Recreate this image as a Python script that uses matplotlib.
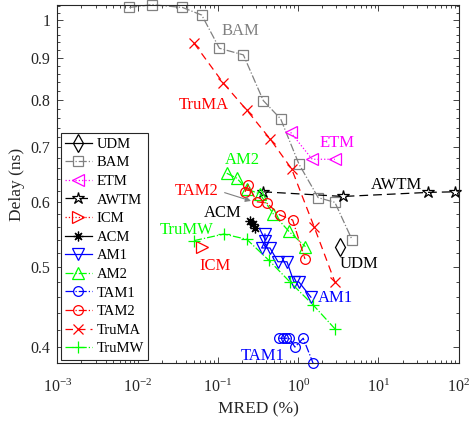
import matplotlib
matplotlib.use("Agg")
import matplotlib.pyplot as plt
from matplotlib.ticker import FixedLocator, LogLocator, NullFormatter, FixedFormatter
import numpy as np

plt.rcParams['font.family'] = ['Liberation Serif', 'DejaVu Serif']
plt.rcParams['mathtext.fontset'] = 'custom'
plt.rcParams['mathtext.rm'] = 'Liberation Serif'
plt.rcParams['mathtext.it'] = 'Liberation Serif:italic'

# ---- data (MRED %, Delay ns) ----
udm_x = [3.31]
udm_y = [0.530]

bam_x = [0.0079, 0.0151, 0.0362, 0.063, 0.1045, 0.208, 0.368, 0.606, 1.023, 1.778, 2.87, 4.71]
bam_y = [1.036, 1.044, 1.036, 1.014, 0.924, 0.907, 0.798, 0.758, 0.668, 0.608, 0.600, 0.540]

etm_x = [0.807, 1.497, 2.87]
etm_y = [0.730, 0.677, 0.677]

awtm_x = [0.368, 3.64, 42.0, 89.9]
awtm_y = [0.618, 0.610, 0.617, 0.618]

icm_x = [0.063]
icm_y = [0.529]

acm_x = [0.251, 0.277, 0.290]
acm_y = [0.570, 0.565, 0.558]

am1_x = [0.386, 0.386, 0.351, 0.446, 0.561, 0.726, 0.887, 1.023, 1.443]
am1_y = [0.549, 0.538, 0.528, 0.528, 0.508, 0.508, 0.480, 0.480, 0.460]

am2_x = [0.129, 0.172, 0.229, 0.335, 0.490, 0.769, 1.233]
am2_y = [0.651, 0.642, 0.623, 0.614, 0.581, 0.553, 0.530]

tam1_x = [0.582, 0.641, 0.705, 0.775, 0.912, 1.157, 1.54]
tam1_y = [0.410, 0.410, 0.410, 0.410, 0.400, 0.410, 0.382]

tam2_x = [0.218, 0.239, 0.305, 0.405, 0.594, 0.855, 1.216]
tam2_y = [0.618, 0.630, 0.601, 0.599, 0.579, 0.571, 0.512]

truma_x = [0.0506, 0.117, 0.229, 0.446, 0.830, 1.585, 2.87]
truma_y = [0.937, 0.838, 0.777, 0.717, 0.659, 0.560, 0.480]

trumw_x = [0.0506, 0.119, 0.229, 0.433, 0.791, 1.54, 2.87]
trumw_y = [0.539, 0.549, 0.541, 0.510, 0.480, 0.450, 0.421]

yticks = [0.4, 0.5, 0.6, 0.7, 0.8, 0.9, 1.0]
ytick_labels = ['0.4', '0.5', '0.6', '0.7', '0.8', '0.9', '1']
xticks = [1e-3, 1e-2, 1e-1, 1e0, 1e1, 1e2]
xtick_labels = [r'$10^{-3}$', r'$10^{-2}$', r'$10^{-1}$', r'$10^{0}$', r'$10^{1}$', r'$10^{2}$']

GRAY = '#808080'
MAG = '#FF00FF'
GRN = '#00FF00'
BLU = '#0000FF'
RED = '#FF0000'

fig = plt.figure(figsize=(4.69, 4.23), dpi=100)
ax = fig.add_axes([0.1222, 0.1407, 0.8558, 0.8482])
ax.set_xscale('log')
ax.set_yscale('log')

ms = 7
lw = 0.9
kw = dict(mfc='none', clip_on=False, lw=lw, mew=0.9)
ax.plot(udm_x, udm_y, '-', color='k', marker='d', ms=9, label='UDM', **kw)
ax.plot(bam_x, bam_y, '-.', color=GRAY, marker='s', ms=6.5, label='BAM', **kw)
ax.plot(etm_x, etm_y, ':', color=MAG, marker='<', ms=ms+1, label='ETM', **kw)
ax.plot(awtm_x, awtm_y, '--', color='k', marker='*', ms=9, label='AWTM', dashes=(7, 4), **kw)
ax.plot(icm_x, icm_y, ':', color=RED, marker='>', ms=ms+1, label='ICM', **kw)
ax.plot(acm_x, acm_y, '-', color='k', marker=(8, 2, 0), ms=ms, label='ACM', **kw)
ax.plot(am1_x, am1_y, '-', color=BLU, marker='v', ms=ms+1, label='AM1', **kw)
ax.plot(am2_x, am2_y, '-.', color=GRN, marker='^', ms=ms+1, label='AM2', **kw)
ax.plot(tam1_x, tam1_y, '-.', color=BLU, marker='o', ms=ms, label='TAM1', **kw)
ax.plot(tam2_x, tam2_y, '-.', color=RED, marker='o', ms=ms, label='TAM2', **kw)
ax.plot(truma_x, truma_y, '--', color=RED, marker='x', ms=ms, label='TruMA', dashes=(6, 4), **kw)
ax.plot(trumw_x, trumw_y, '-.', color=GRN, marker='+', ms=ms+1, label='TruMW', **kw)

ax.set_xlim(1e-3, 1e2)
ax.set_ylim(0.382, 1.044)

ax.xaxis.set_major_locator(FixedLocator(xticks))
ax.xaxis.set_major_formatter(FixedFormatter(xtick_labels))
ax.xaxis.set_minor_locator(LogLocator(base=10, subs=np.arange(2, 10)))
ax.xaxis.set_minor_formatter(NullFormatter())
ax.yaxis.set_major_locator(FixedLocator(yticks))
ax.yaxis.set_major_formatter(FixedFormatter(ytick_labels))
ax.yaxis.set_minor_locator(FixedLocator(np.arange(0.38, 1.05, 0.02)))
ax.yaxis.set_minor_formatter(NullFormatter())

ax.tick_params(which='both', direction='in', top=True, right=True, labelsize=11.5, width=0.6,
               colors='#262626', labelcolor='#262626')
ax.tick_params(which='major', length=4)
ax.tick_params(which='minor', length=2)
ax.tick_params(axis='x', which='major', pad=11)
ax.tick_params(axis='y', which='major', pad=5)
for s in ax.spines.values():
    s.set_linewidth(0.8)
    s.set_color('#262626')

ax.set_xlabel('MRED (%)', fontsize=12.5, color='#262626', labelpad=4)
ax.set_ylabel('Delay (ns)', fontsize=12.5, color='#262626', labelpad=4)

leg = ax.legend(loc='upper left', bbox_to_anchor=(0.009, 0.642), fontsize=10.5, frameon=True,
                fancybox=False, edgecolor='#262626', framealpha=1, borderpad=0.3,
                labelspacing=0.37, handlelength=1.8, handletextpad=0.35, borderaxespad=0)
leg.get_frame().set_linewidth(0.8)

tfs = 12
ax.text(0.190, 0.970, 'BAM', color=GRAY, fontsize=tfs, ha='center', va='center')
ax.text(0.0677, 0.788, 'TruMA', color=RED, fontsize=tfs, ha='center', va='center')
ax.text(3.07, 0.709, 'ETM', color=MAG, fontsize=tfs, ha='center', va='center')
ax.text(0.201, 0.676, 'AM2', color=GRN, fontsize=tfs, ha='center', va='center')
ax.text(17.0, 0.630, 'AWTM', color='k', fontsize=tfs, ha='center', va='center')
ax.text(0.055, 0.620, 'TAM2', color=RED, fontsize=tfs, ha='center', va='center')
ax.text(0.1156, 0.582, 'ACM', color='k', fontsize=tfs, ha='center', va='center')
ax.text(0.0412, 0.555, 'TruMW', color=GRN, fontsize=tfs, ha='center', va='center')
ax.text(0.093, 0.502, 'ICM', color=RED, fontsize=tfs, ha='center', va='center')
ax.text(5.77, 0.505, 'UDM', color='k', fontsize=tfs, ha='center', va='center')
ax.text(2.90, 0.459, 'AM1', color=BLU, fontsize=tfs, ha='center', va='center')
ax.text(0.357, 0.390, 'TAM1', color=BLU, fontsize=tfs, ha='center', va='center')
ax.annotate('', xy=(0.279, 0.601), xytext=(0.1125, 0.618),
            arrowprops=dict(arrowstyle='-|>', color=GRAY, lw=0.8, mutation_scale=8))

fig.savefig('out.png', dpi=100)
